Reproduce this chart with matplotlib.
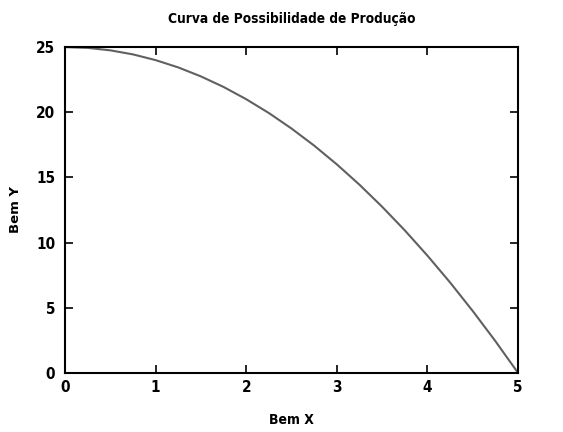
import numpy as np
import matplotlib.pyplot as plt

# values
bem_x = [0, 0.25, 0.5, 0.75, 1, 1.25, 1.5, 1.75, 2, 2.25, 2.5, 2.75, 3,
         3.25, 3.5, 3.75, 4, 4.25, 4.5, 4.75, 5]
bem_y = [25, 24.94, 24.75, 24.44, 24, 23.44, 22.75, 21.94, 21, 19.94, 18.75,
         17.44, 16, 14.44, 12.75, 10.94, 9, 6.94, 4.75, 2.44, 0]

xticks = [0, 1, 2, 3, 4, 5]
yticks = [0, 5, 10, 15, 20, 25]

fig = plt.figure(figsize=(5.63, 4.32), dpi=100)
ax = fig.add_axes([0.1155, 0.137, 0.8045, 0.754])

ax.plot(bem_x, bem_y, color='#606060', lw=1.5)

ax.set_xlim(0, 5)
ax.set_ylim(0, 25)
ax.set_xticks(xticks)
ax.set_yticks(yticks)
ax.tick_params(direction='in', top=True, right=True, length=6, width=1.2,
               labelsize=11)
ax.tick_params(axis='x', pad=5)
ax.tick_params(axis='y', pad=7)
for lab in ax.get_xticklabels() + ax.get_yticklabels():
    lab.set_fontweight('bold')
    lab.set_fontstretch('condensed')
for s in ax.spines.values():
    s.set_linewidth(1.5)

ax.set_xlabel('Bem X', fontsize=10, fontweight='bold', fontstretch='condensed',
              labelpad=13)
ax.set_ylabel('Bem Y', fontsize=9.5, fontweight='bold', labelpad=10)
ax.set_title('Curva de Possibilidade de Produção', fontsize=9.8, fontweight='bold',
             fontstretch='condensed', pad=17)

fig.savefig('out.png', dpi=100)
